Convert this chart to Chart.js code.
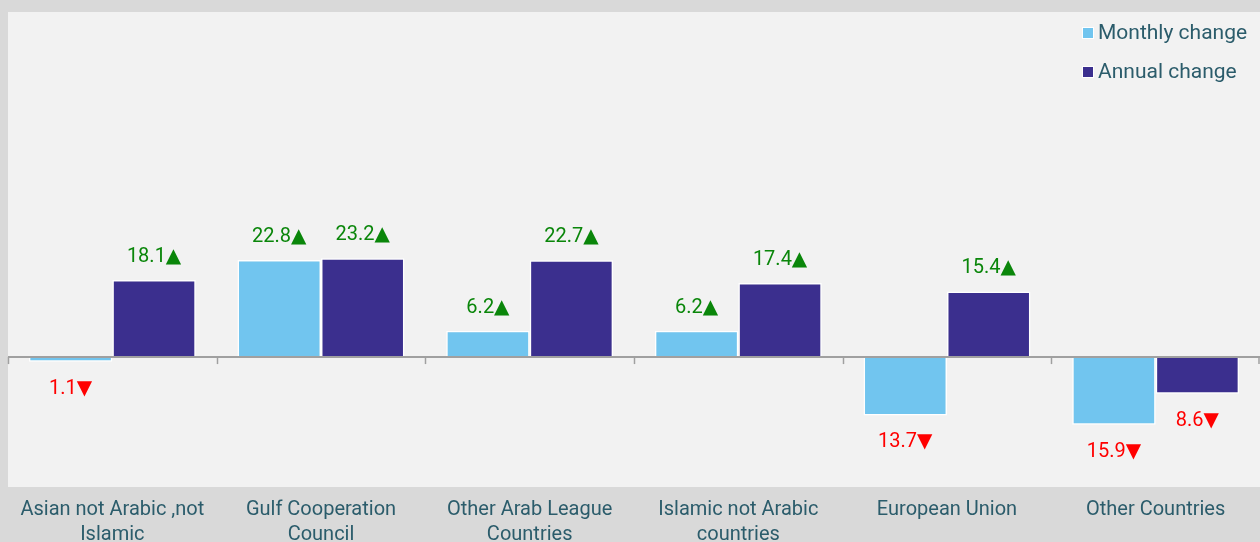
<!DOCTYPE html>
<html><head><meta charset="utf-8">
<script src="https://cdn.jsdelivr.net/npm/chart.js@4/dist/chart.umd.min.js"></script>
<style>html,body{margin:0;padding:0;background:#d9d9d9;}#wrap{width:1260px;height:542px;}</style>
</head><body><div id="wrap"><canvas id="c" width="1260" height="542"></canvas></div>
<script>
const categories = [["Asian not Arabic ,not","Islamic"],["Gulf Cooperation","Council"],["Other Arab League","Countries"],["Islamic not Arabic","countries"],"European Union","Other Countries"];
const monthlyChange = [-1.1, 22.8, 6.2, 6.2, -13.7, -15.9];
const annualChange = [18.1, 23.2, 22.7, 17.4, 15.4, -8.6];
const seriesNames = ["Monthly change","Annual change"];
const seriesColors = ["#71c5ef","#3b2f8e"];
const textColor = "#2b5c6b";
const FONT = "Roboto, 'DejaVu Sans', sans-serif";

const bgPlugin = {
  id:'bg',
  beforeDraw(chart){
    const {ctx, chartArea:a} = chart;
    ctx.save(); ctx.fillStyle = '#f2f2f2';
    ctx.fillRect(a.left, a.top, a.right - a.left, a.bottom - a.top);
    ctx.restore();
  },
  afterDatasetsDraw(chart){
    const {ctx, chartArea:a, scales} = chart;
    const y0 = scales.y.getPixelForValue(0);
    ctx.save();
    ctx.strokeStyle = '#a0a0a0'; ctx.lineWidth = 2;
    ctx.beginPath(); ctx.moveTo(a.left, y0); ctx.lineTo(a.right, y0); ctx.stroke();
    const n = categories.length;
    const w = (a.right - a.left) / n;
    ctx.lineWidth = 1.5;
    for (let i = 0; i <= n; i++) {
      const x = Math.round(a.left + i * w) + 0.5 - (i === n ? 1.5 : 0);
      ctx.beginPath(); ctx.moveTo(x, y0); ctx.lineTo(x, y0 + 7); ctx.stroke();
    }
    // data labels
    ctx.font = "20px " + FONT;
    ctx.textAlign = 'center'; ctx.textBaseline = 'middle';
    chart.data.datasets.forEach((ds, di) => {
      const meta = chart.getDatasetMeta(di);
      meta.data.forEach((bar, j) => {
        const v = ds.data[j];
        const txt = Math.abs(v).toFixed(1) + (v >= 0 ? '▲' : '▼');
        ctx.fillStyle = v >= 0 ? '#0a860a' : '#ff0000';
        const y = v >= 0 ? bar.y - 23 : bar.y + 27;
        ctx.fillText(txt, bar.x, y);
      });
    });
    // legend
    ctx.font = "21px " + FONT;
    ctx.textAlign = 'left';
    const ly = [33, 72];
    seriesNames.forEach((nm, i) => {
      ctx.fillStyle = '#ffffff';
      ctx.fillRect(1082, ly[i] - 6, 12, 12);
      ctx.fillStyle = seriesColors[i];
      ctx.fillRect(1083, ly[i] - 5, 10, 10);
      ctx.fillStyle = textColor;
      ctx.fillText(nm, 1098, ly[i] + 1);
    });
    ctx.restore();
  }
};

new Chart(document.getElementById('c'), {
  type: 'bar',
  data: {
    labels: categories,
    datasets: [
      {label: seriesNames[0], data: monthlyChange, backgroundColor: seriesColors[0], borderColor:'#ffffff', borderWidth:1.5},
      {label: seriesNames[1], data: annualChange, backgroundColor: seriesColors[1], borderColor:'#ffffff', borderWidth:1.5}
    ]
  },
  options: {
    responsive: false, animation: false,
    layout: {padding: {left: 8, top: 12, right: 0, bottom: 0}},
    datasets: {bar: {categoryPercentage: 0.8, barPercentage: 1.0}},
    plugins: {legend: {display: false}, tooltip: {enabled: false}},
    scales: {
      x: {
        grid: {display: false, drawTicks: false},
        border: {display: false},
        afterFit: (s) => { s.height = 55; },
        ticks: {color: textColor, font: {size: 20, family: FONT, lineHeight: 1.25}, padding: 10, maxRotation: 0, autoSkip: false}
      },
      y: {display: false, min: -30.5, max: 81}
    }
  },
  plugins: [bgPlugin]
});
</script></body></html>
